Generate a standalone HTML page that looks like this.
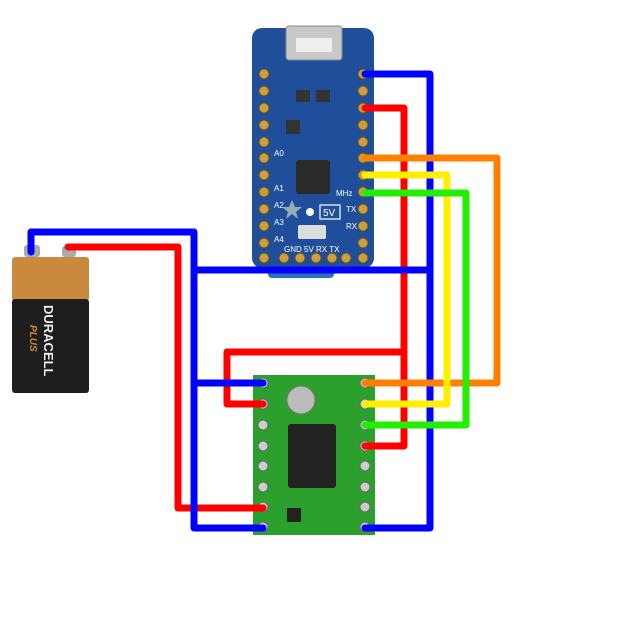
<!DOCTYPE html>
<html><head><meta charset="utf-8"><style>
html,body{margin:0;padding:0;background:#fff;width:620px;height:620px;overflow:hidden}
svg{display:block}
</style></head><body>
<svg width="620" height="620" viewBox="0 0 620 620" xmlns="http://www.w3.org/2000/svg" font-family="Liberation Sans, sans-serif">
<!-- Arduino board -->
<rect x="268" y="262" width="66" height="16" rx="4" fill="#2a6fb8"/>
<rect x="252" y="28" width="122" height="240" rx="10" fill="#1f4f9a"/>
<rect x="286" y="26" width="56" height="34" rx="3" fill="#c8c8c8" stroke="#888"/>
<rect x="296" y="38" width="36" height="14" fill="#eee"/>
<g fill="#c9a040" stroke="#6b5020" stroke-width="1">
<circle cx="264" cy="74" r="5"/><circle cx="264" cy="91" r="5"/><circle cx="264" cy="108" r="5"/><circle cx="264" cy="125" r="5"/><circle cx="264" cy="142" r="5"/><circle cx="264" cy="158" r="5"/><circle cx="264" cy="175" r="5"/><circle cx="264" cy="192" r="5"/><circle cx="264" cy="209" r="5"/><circle cx="264" cy="226" r="5"/><circle cx="264" cy="243" r="5"/><circle cx="264" cy="258" r="5"/>
<circle cx="363" cy="74" r="5"/><circle cx="363" cy="91" r="5"/><circle cx="363" cy="108" r="5"/><circle cx="363" cy="125" r="5"/><circle cx="363" cy="142" r="5"/><circle cx="363" cy="158" r="5"/><circle cx="363" cy="175" r="5"/><circle cx="363" cy="192" r="5"/><circle cx="363" cy="209" r="5"/><circle cx="363" cy="226" r="5"/><circle cx="363" cy="243" r="5"/><circle cx="363" cy="258" r="5"/>
<circle cx="284" cy="258" r="5"/><circle cx="300" cy="258" r="5"/><circle cx="316" cy="258" r="5"/><circle cx="332" cy="258" r="5"/><circle cx="346" cy="258" r="5"/>
</g>
<g font-size="8" fill="#fff">
<text x="274" y="156">A0</text><text x="274" y="191">A1</text><text x="274" y="208">A2</text><text x="274" y="225">A3</text><text x="274" y="242">A4</text><text x="284" y="252">GND 5V RX TX</text>
<text x="346" y="212">TX</text><text x="346" y="229">RX</text><text x="336" y="196">MHz</text>
</g>
<rect x="296" y="160" width="34" height="34" rx="3" fill="#2a2a2a"/>
<rect x="298" y="225" width="28" height="14" rx="2" fill="#ddd"/>
<rect x="286" y="120" width="14" height="14" fill="#333"/>
<rect x="296" y="90" width="14" height="12" fill="#333"/><rect x="316" y="90" width="14" height="12" fill="#333"/>
<rect x="320" y="205" width="20" height="14" fill="none" stroke="#fff" stroke-width="1.2"/>
<text x="323" y="216" font-size="10" fill="#fff">5V</text>
<circle cx="310" cy="212" r="4" fill="#fff"/>
<polygon points="292,200 295,207 302,207 296,212 298,219 292,214 286,219 288,212 282,207 289,207" fill="#9ab"/>
<!-- Battery -->
<rect x="24" y="245" width="16" height="12" rx="3" fill="#aaa"/>
<rect x="62" y="246" width="14" height="11" rx="3" fill="#aaa"/>
<rect x="12" y="257" width="77" height="44" rx="3" fill="#c98a3e"/>
<rect x="12" y="299" width="77" height="94" rx="3" fill="#1e1e1e"/>
<text transform="translate(44,305) rotate(90)" font-size="13" font-weight="bold" fill="#eee">DURACELL</text>
<text transform="translate(30,325) rotate(90)" font-size="10" font-weight="bold" font-style="italic" fill="#c98a3e">PLUS</text>
<!-- Driver board -->
<rect x="253" y="375" width="122" height="160" fill="#2ca02c"/>
<g fill="#ccc" stroke="#666" stroke-width="1">
<circle cx="263" cy="383" r="5"/><circle cx="263" cy="404" r="5"/><circle cx="263" cy="425" r="5"/><circle cx="263" cy="446" r="5"/><circle cx="263" cy="466" r="5"/><circle cx="263" cy="487" r="5"/><circle cx="263" cy="507" r="5"/><circle cx="263" cy="527" r="5"/>
<circle cx="365" cy="383" r="5"/><circle cx="365" cy="404" r="5"/><circle cx="365" cy="425" r="5"/><circle cx="365" cy="446" r="5"/><circle cx="365" cy="466" r="5"/><circle cx="365" cy="487" r="5"/><circle cx="365" cy="507" r="5"/><circle cx="365" cy="527" r="5"/>
</g>
<circle cx="301" cy="400" r="14" fill="#bbb" stroke="#777"/>
<rect x="288" y="424" width="48" height="64" rx="3" fill="#222"/>
<rect x="287" y="508" width="14" height="14" fill="#222"/>
<!-- Wires -->
<g fill="none" stroke-width="7" stroke-linejoin="round" stroke-linecap="round">
<polyline stroke="#ff0000" points="68,247 178,247 178,508 263,508"/>
<polyline stroke="#ff0000" points="400,352 227,352 227,404 263,404"/>
<polyline stroke="#ff0000" points="365,108 404,108 404,446 365,446"/>
<polyline stroke="#0000ff" points="31,252 31,232 194,232 194,528 263,528"/>
<polyline stroke="#0000ff" points="194,383 263,383"/>
<polyline stroke="#0000ff" points="194,270 430,270"/>
<polyline stroke="#0000ff" points="365,74 430,74 430,528 365,528"/>
<polyline stroke="#ff8000" points="365,158 497,158 497,383 365,383"/>
<polyline stroke="#ffee00" points="365,175 447,175 447,404 365,404"/>
<polyline stroke="#22ee00" points="365,193 466,193 466,425 365,425"/>
</g>
</svg>
</body></html>
